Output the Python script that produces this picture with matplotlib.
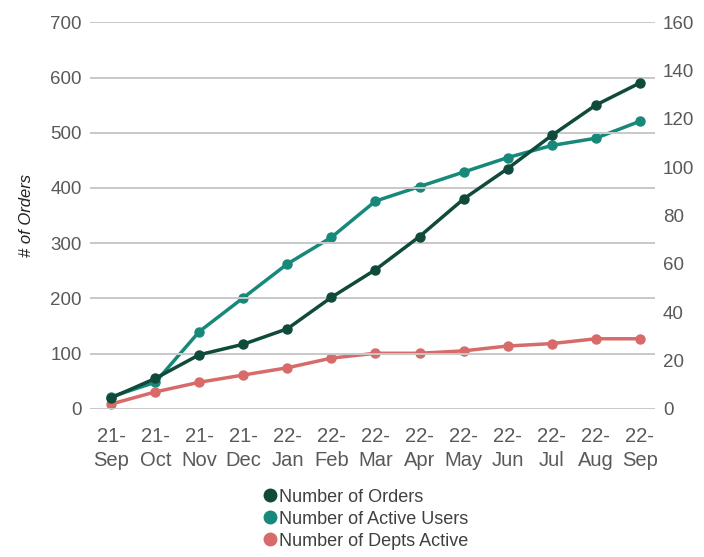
import matplotlib.pyplot as plt

plt.rcParams['font.family'] = ['Liberation Sans', 'DejaVu Sans']

months = ['21-\nSep', '21-\nOct', '21-\nNov', '21-\nDec', '22-\nJan', '22-\nFeb', '22-\nMar',
          '22-\nApr', '22-\nMay', '22-\nJun', '22-\nJul', '22-\nAug', '22-\nSep']
orders = [20, 55, 98, 117, 145, 202, 252, 312, 380, 435, 495, 550, 590]
active_users = [5, 11, 32, 46, 60, 71, 86, 92, 98, 104, 109, 112, 119]
depts_active = [2, 7, 11, 14, 17, 21, 23, 23, 24, 26, 27, 29, 29]

c_orders = '#0f4a3b'
c_users = '#17897a'
c_depts = '#d76b6a'
text_col = '#595959'

fig = plt.figure(figsize=(7.04, 5.57), dpi=100)
ax = fig.add_axes([0.128, 0.266, 0.802, 0.694])
ax2 = ax.twinx()

x = list(range(len(months)))
l1, = ax.plot(x, orders, color=c_orders, lw=2.5, marker='o', ms=6.5, label='Number of Orders', zorder=3)
l2, = ax2.plot(x, active_users, color=c_users, lw=2.5, marker='o', ms=6.5, label='Number of Active Users')
l3, = ax2.plot(x, depts_active, color=c_depts, lw=2.5, marker='o', ms=6.5, label='Number of Depts Active')

# orders axis on top so its line is drawn over the right-axis series
ax.set_zorder(ax2.get_zorder() + 1)
ax.patch.set_visible(False)

ax.set_ylim(0, 700)
ax.set_yticks(range(0, 701, 100))
ax2.set_ylim(0, 160)
ax2.set_yticks(range(0, 161, 20))
ax.set_xlim(-0.48, 12.34)
ax.set_xticks(x)
ax.set_xticklabels(months, linespacing=1.35, fontsize=14.5)

ax.grid(axis='y', color='#c8c8c8', lw=1.4)
ax.set_axisbelow(True)
for a in (ax, ax2):
    for s in a.spines.values():
        s.set_visible(False)
    a.tick_params(length=0, labelsize=13.5, colors=text_col)
ax.tick_params(axis='x', labelsize=14.5)
ax.tick_params(axis='y', pad=6)
ax2.tick_params(axis='y', pad=6)
ax.tick_params(axis='x', pad=13)

ax.set_ylabel('# of Orders', fontsize=12, style='italic', color='#222222', labelpad=12)

leg = fig.legend(handles=[l1, l2, l3], loc='upper left', bbox_to_anchor=(0.35, 0.152),
                 frameon=False, fontsize=13, handlelength=0.8, handletextpad=0.1,
                 labelspacing=0.28, labelcolor='#404040')
for h in leg.legend_handles:
    h.set_linestyle('none')
    h.set_markersize(9)

fig.savefig('out.png', dpi=100)
